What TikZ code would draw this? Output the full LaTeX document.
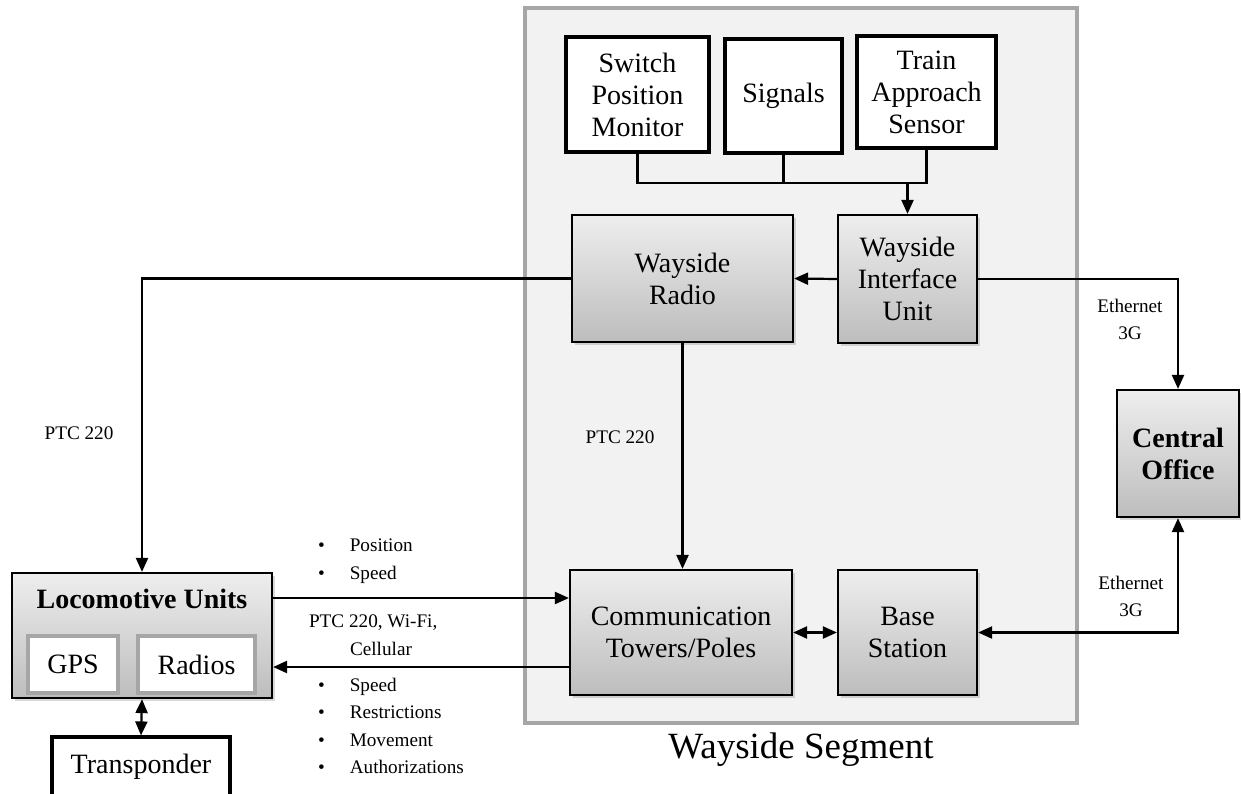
\documentclass[tikz,border=0pt]{standalone}
\usepackage{fontspec}
\setmainfont{Liberation Serif}
\usetikzlibrary{arrows.meta}
\usetikzlibrary{shadows}

\definecolor{segfill}{HTML}{F2F2F2}
\definecolor{segline}{HTML}{A6A6A6}
\definecolor{boxtop}{HTML}{EEEEEE}
\definecolor{boxbottom}{HTML}{BDBDBD}

\tikzset{
  graybox/.style={draw, rectangle, line width=1.1pt, top color=boxtop, bottom color=boxbottom, align=center,
    drop shadow={shadow xshift=1.5pt, shadow yshift=-1.5pt, opacity=0.3}},
  whitebox/.style={draw, rectangle, line width=1.6pt, fill=white, align=center},
  innerbox/.style={draw=segline, rectangle, line width=1.6pt, fill=white, align=center},
  conn/.style={line width=1.1pt, >={Triangle[length=7pt, width=6pt]}},
  tag/.style={font=\fontsize{9.6}{13.8}\selectfont, align=left},
}

\begin{document}
\begin{tikzpicture}[x=0.5pt, y=-0.5pt, font=\fontsize{14}{16}\selectfont]

  \useasboundingbox (0,0) rectangle (1241,793);

  % Wayside segment
  \node[draw=segline, fill=segfill, line width=2pt, minimum width=276pt, minimum height=357.5pt] (seg) at (801,365.5) {};
  \node[font=\fontsize{18.5}{20}\selectfont] (segname) at (801,750) {Wayside Segment};

  % Define nodes
  \node[whitebox, minimum width=71.5pt, minimum height=57.5pt] (spm) at (637.5,94.5) {Switch\\Position\\Monitor};
  \node[whitebox, minimum width=58.5pt, minimum height=57pt] (sig) at (783.5,96) {Signals};
  \node[whitebox, minimum width=69.5pt, minimum height=56pt] (tas) at (926.5,92) {Train\\Approach\\Sensor};

  \node[graybox, minimum width=110.5pt, minimum height=63.5pt] (wr) at (682.5,278.5) {Wayside\\Radio};
  \node[graybox, minimum width=69.5pt, minimum height=64pt] (wiu) at (907.5,279) {Wayside\\Interface\\Unit};
  \node[graybox, minimum width=111pt, minimum height=62.5pt] (ct) at (681,632.5) {Communication\\Towers/Poles};
  \node[graybox, minimum width=69.5pt, minimum height=62.5pt] (bs) at (907.5,632.5) {Base\\Station};
  \node[graybox, minimum width=61pt, minimum height=63.5pt, font=\fontsize{14}{16}\selectfont\bfseries] (co) at (1178,453.5) {Central\\Office};

  \node[graybox, minimum width=130pt, minimum height=62.5pt,
    label={[anchor=north, font=\fontsize{14}{16}\selectfont\bfseries, yshift=-5pt]north:Locomotive Units}] (loco) at (142,635.5) {};
  \node[innerbox, minimum width=45pt, minimum height=28.5pt] (gps) at (73,664.5) {GPS};
  \node[innerbox, minimum width=58.5pt, minimum height=28.5pt] (rad) at (196.5,664.5) {Radios};
  \node[whitebox, minimum width=89pt, minimum height=30pt] (tsp) at (141,767) {Transponder};

  % Helper points
  \coordinate (busL) at (637.5,183);
  \coordinate (busR) at (926.5,183);
  \coordinate (upper) at (0,598);
  \coordinate (lower) at (0,667);

  % Connect the nodes
  \draw [conn] (spm.south) -- (busL) -- (busR) -- (tas.south);
  \draw [conn] (sig.south) -- (sig.south |- busL);
  \draw [conn, ->] (wiu.north |- busL) -- (wiu.north);
  \draw [conn, ->] (wiu.west) -- (wr.east);
  \draw [conn, ->] (wr.west) -| (loco.north);
  \draw [conn, ->] (wr.south) -- (ct.north -| wr.south);
  \draw [conn, ->] (wiu.east) -| (co.north);
  \draw [conn, <->] (bs.east) -| (co.south);
  \draw [conn, <->] (ct.east) -- (bs.west);
  \draw [conn, ->] (loco.east |- upper) -- (ct.west |- upper);
  \draw [conn, ->] (ct.west |- lower) -- (loco.east |- lower);
  \draw [conn, <->] (loco.south) -- (tsp.north);

  % Labels
  \node[tag] (ptcleft) at (79,433) {PTC 220};
  \node[tag] (ptcmid) at (620,437) {PTC 220};
  \node[tag, align=center] (ethup) at (1130,319.5) {Ethernet\\3G};
  \node[tag, align=center] (ethdown) at (1131,596.5) {Ethernet\\3G};
  \node[tag, anchor=west] (upinfo) at (311,561) {\textbullet\hspace{12.5pt}Position\\\textbullet\hspace{12.5pt}Speed};
  \node[tag, anchor=west] (links) at (302,635) {PTC 220, Wi-Fi,\\\hspace{20.5pt}Cellular};
  \node[tag, anchor=west] (downinfo) at (311,726) {\textbullet\hspace{12.5pt}Speed\\\textbullet\hspace{12.5pt}Restrictions\\\textbullet\hspace{12.5pt}Movement\\\textbullet\hspace{12.5pt}Authorizations};

\end{tikzpicture}
\end{document}
